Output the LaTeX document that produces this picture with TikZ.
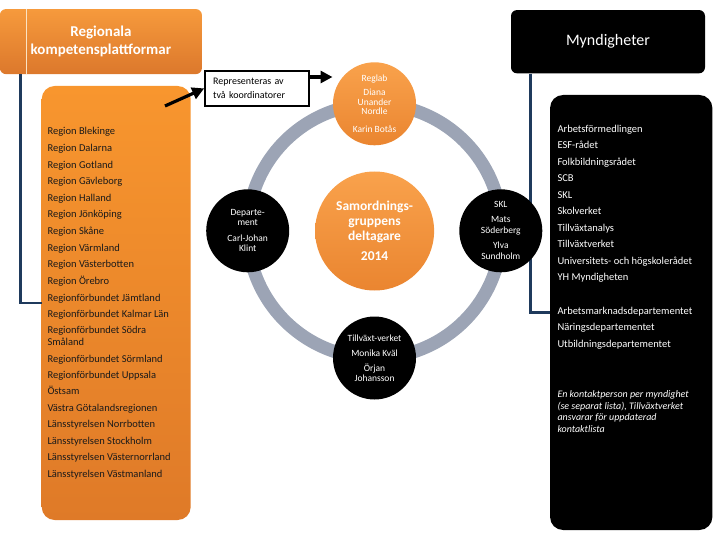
\documentclass[tikz,border=0pt]{standalone}
\usepackage{fontspec}
\setmainfont{Carlito}
\usetikzlibrary{arrows.meta}
\definecolor{orTop}{HTML}{F69A3C}
\definecolor{orBot}{HTML}{DC782C}
\definecolor{lsTop}{HTML}{F8962E}
\definecolor{lsBot}{HTML}{DF7A28}
\definecolor{navy}{HTML}{1F3A5C}
\definecolor{ringc}{HTML}{9CA4B5}
\definecolor{cream}{HTML}{FBE3C4}
\definecolor{ctop}{HTML}{F9A24C}
\definecolor{cbot}{HTML}{EA8530}
\definecolor{itemc}{HTML}{1A1A1A}
\begin{document}
\begin{tikzpicture}[x=1pt,y=-1pt,
  hdrbox/.style={rounded corners=6pt, inner sep=0pt, align=center},
  listbox/.style={rounded corners=13pt, inner sep=0pt},
  item/.style={anchor=base west, inner sep=0pt, text=itemc, font=\fontsize{10.5}{11.7}\selectfont},
  ritem/.style={anchor=base west, inner sep=0pt, text=white, font=\fontsize{10.5}{11.7}\selectfont},
  navyline/.style={draw=navy, line width=2.8pt},
  member/.style={circle, inner sep=0pt, minimum size=83pt, align=center},
  arr/.style={line width=3.2pt, -{Triangle[length=12pt,width=12pt]}}
]
\useasboundingbox (0,0) rectangle (720,540);

% left column
\node[listbox, top color=lsTop, bottom color=lsBot, minimum width=149pt, minimum height=434pt] (listL) at (116.2,303) {};
\node[hdrbox, top color=orTop, bottom color=orBot, minimum width=202pt, minimum height=65pt, text=white,
      font=\fontsize{15}{17.4}\selectfont\bfseries] (hdrL) at (100.9,41.6) {Regionala\\kompetensplattformar};
\draw[cream, line width=0.8pt] ([xshift=26.3pt]hdrL.north west) -- ([xshift=26.3pt]hdrL.south west);
\draw[navyline] ([xshift=20.5pt]hdrL.south west) |- (listL.west);

\foreach \y/\t in {135/Region Blekinge, 151.6/Region Dalarna, 168.2/Region Gotland, 184.8/Region Gävleborg,
  201.4/Region Halland, 218/Region Jönköping, 234.6/Region Skåne, 251.2/Region Värmland,
  267.8/Region Västerbotten, 284.4/Region Örebro, 301/Regionförbundet Jämtland,
  317.6/Regionförbundet Kalmar Län, 362.1/Regionförbundet Sörmland, 378.4/Regionförbundet Uppsala,
  394.9/Östsam, 411.2/Västra Götalandsregionen, 427.8/Länsstyrelsen Norrbotten,
  444.2/Länsstyrelsen Stockholm, 460.8/Länsstyrelsen Västernorrland, 477.2/Länsstyrelsen Västmanland}
  \node[item] (li\y) at (47.3,\y) {\t};
\node[item] (liSodra) at (47.3,333.6) {\parbox[t]{140pt}{\fontsize{10.5}{11.7}\selectfont Regionförbundet Södra\\Småland}};

% right column
\node[listbox, fill=black, minimum width=162.3pt, minimum height=435pt] (listR) at (631.2,312.5) {};
\node[hdrbox, fill=black, minimum width=194pt, minimum height=63.3pt, text=white,
      font=\fontsize{16}{18}\selectfont] (hdrR) at (608,41.7) {Myndigheter};
\draw[navyline] ([xshift=20pt]hdrR.south west) |- (listR.west);

\foreach \y/\t in {132.6/Arbetsförmedlingen, 149/ESF-rådet, 165.5/Folkbildningsrådet, 182/SCB,
  198.4/SKL, 214.9/Skolverket, 231.3/Tillväxtanalys, 247.8/Tillväxtverket,
  264.2/Universitets- och högskolerådet, 280.7/YH Myndigheten,
  314/Arbetsmarknadsdepartementet, 330.7/Näringsdepartementet, 347/Utbildningsdepartementet}
  \node[ritem] (ri\y) at (557.3,\y) {\t};
\node[ritem] (riNote) at (557.3,397.5) {\parbox[t]{150pt}{\fontsize{10}{11.5}\selectfont\itshape
  En kontaktperson per myndighet\\(se separat lista), Tillväxtverket\\ansvarar för uppdaterad\\kontaktlista}};

% centre
\node[circle, inner sep=0pt, minimum size=119pt, top color=ctop, bottom color=cbot, text=white, align=center,
      font=\fontsize{13.5}{14.8}\selectfont\bfseries] (mid) at (374.6,231) {Samordnings-\\gruppens\\deltagare\\[5pt]2014};
\draw[ringc, line width=13pt] (mid.center) circle[radius=127pt];

\node[member, top color=ctop, bottom color=cbot, text=white, font=\fontsize{9.5}{9.6}\selectfont] (top) at (374.5,103.8)
  {Reglab\\[4.4pt]Diana\\Unander\\Nordle\\[8pt]Karin Botås};
\node[member, fill=black, text=white, font=\fontsize{9.5}{10.2}\selectfont] (left) at (247.7,230.8)
  {Departe-\\ment\\[5.5pt]Carl-Johan\\Klint};
\node[member, fill=black, text=white, font=\fontsize{9.5}{11}\selectfont] (right) at (500.8,230.8)
  {SKL\\[4.3pt]Mats\\Söderberg\\[4pt]Ylva\\Sundholm};
\node[member, fill=black, text=white, font=\fontsize{9.5}{10.4}\selectfont] (bottom) at (374.5,358)
  {Tillväxt-verket\\[5.3pt]Monika Kväl\\[4pt]Örjan\\Johansson};

% representation box and arrows
\node[draw=black, line width=2pt, fill=white, minimum width=104pt, minimum height=35pt, inner sep=0pt,
      text width=88pt, align=left, font=\fontsize{10}{14}\selectfont] (rep) at (257.2,88.4)
  {Representeras av\\två koordinatorer};
\coordinate (a1) at (165,106);
\coordinate (a2) at (332.5,77);
\draw[arr] (a1) -- (rep.west);
\draw[arr] (rep.east |- a2) -- (a2);
\end{tikzpicture}
\end{document}
